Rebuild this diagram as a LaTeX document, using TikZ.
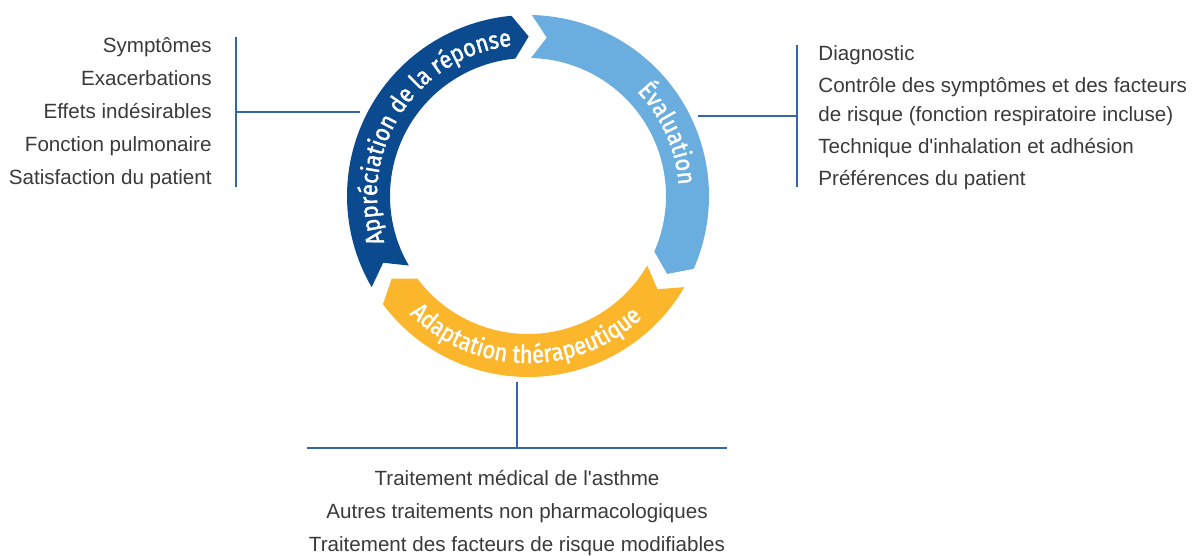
\documentclass[tikz,border=0pt]{standalone}
\usepackage{fontspec}
\setmainfont{Liberation Sans}
\newfontfamily\anneaufont{Fira Sans}[FakeStretch=0.88, FakeBold=1.6]
\usetikzlibrary{decorations.text}

\definecolor{bleufonce}{HTML}{0B4A8E}
\definecolor{bleuclair}{HTML}{6AADDF}
\definecolor{jaune}{HTML}{FBB62B}
\definecolor{trait}{HTML}{3465A4}
\definecolor{gristexte}{HTML}{3A3A3A}

\newcommand{\anneau}{\anneaufont\fontsize{12.4}{14}\selectfont\color{white}}

\tikzset{
	liste/.style={font=\fontsize{10.3}{16.5}\selectfont, text=gristexte, inner sep=0pt},
	accolade/.style={draw=trait, line width=1pt},
}

\begin{document}
\begin{tikzpicture}[x=0.5pt,y=0.5pt]
	\useasboundingbox (0,0) rectangle (1195,556);
	\coordinate (centre) at (528,360);

	\begin{scope}[shift={(centre)}]
	\fill [bleufonce]
	(210.25:181) -- (204.75:159.5) -- (210.25:138)
	arc [start angle=210.25, end angle=95.25, radius=138]
	-- (89.75:159.5) -- (95.25:181)
	arc [start angle=95.25, end angle=210.25, radius=181] -- cycle;
	\fill [bleuclair]
	(88.75:181) -- (83.25:159.5) -- (88.75:138)
	arc [start angle=88.75, end angle=-23.75, radius=138]
	-- (-29.25:159.5) -- (-23.75:181)
	arc [start angle=-23.75, end angle=88.75, radius=181] -- cycle;
	\fill [jaune]
	(329.75:181) -- (324.25:159.5) -- (329.75:138)
	arc [start angle=329.75, end angle=216.75, radius=138]
	-- (211.25:159.5) -- (216.75:181)
	arc [start angle=216.75, end angle=329.75, radius=181] -- cycle;

	\path [decorate, decoration={text along path, text align=center,
		text={|\anneau|Appréciation de la réponse}}]
	(200:151) arc [start angle=200, end angle=94, radius=151];
	\path [decorate, decoration={text along path, text align=center,
		text={|\anneau|Évaluation}}]
	(44:151) arc [start angle=44, end angle=4, radius=151];
	\path [decorate, decoration={text along path, text align=center,
		text={|\anneau|Adaptation thérapeutique}}]
	(225:167) arc [start angle=225, end angle=313, radius=167];
	\end{scope}

	\node [liste, anchor=north east, align=right] (reponse) at (212,519)
	{
		Symptômes\\
		Exacerbations\\
		Effets indésirables\\
		Fonction pulmonaire\\
		Satisfaction du patient
	};
	\node [liste, anchor=north west, align=left, font=\fontsize{10.3}{14.2}\selectfont] (bilan) at (818,511)
	{
		Diagnostic\\[2pt]
		Contrôle des symptômes et des facteurs\\
		de risque (fonction respiratoire incluse)\\[2pt]
		Technique d\textquotesingle inhalation et adhésion\\[2pt]
		Préférences du patient
	};
	\node [liste, anchor=north, align=center] (traitements) at (517,86)
	{
		Traitement médical de l\textquotesingle asthme\\
		Autres traitements non pharmacologiques\\
		Traitement des facteurs de risque modifiables
	};

	\coordinate (g-haut) at (236,519);
	\coordinate (g-bas) at (236,369);
	\coordinate (g-milieu) at (236,444);
	\coordinate (g-anneau) at (360,444);
	\draw [accolade] (g-haut) -- (g-bas);
	\draw [accolade] (g-milieu) -- (g-anneau);

	\coordinate (d-haut) at (797,511);
	\coordinate (d-bas) at (797,369);
	\coordinate (d-milieu) at (797,440);
	\coordinate (d-anneau) at (698,440);
	\draw [accolade] (d-haut) -- (d-bas);
	\draw [accolade] (d-milieu) -- (d-anneau);

	\coordinate (b-anneau) at (517,174);
	\coordinate (b-milieu) at (517,108);
	\coordinate (b-gauche) at (307,108);
	\coordinate (b-droite) at (727,108);
	\draw [accolade] (b-anneau) -- (b-milieu);
	\draw [accolade] (b-gauche) -- (b-droite);

\end{tikzpicture}
\end{document}
